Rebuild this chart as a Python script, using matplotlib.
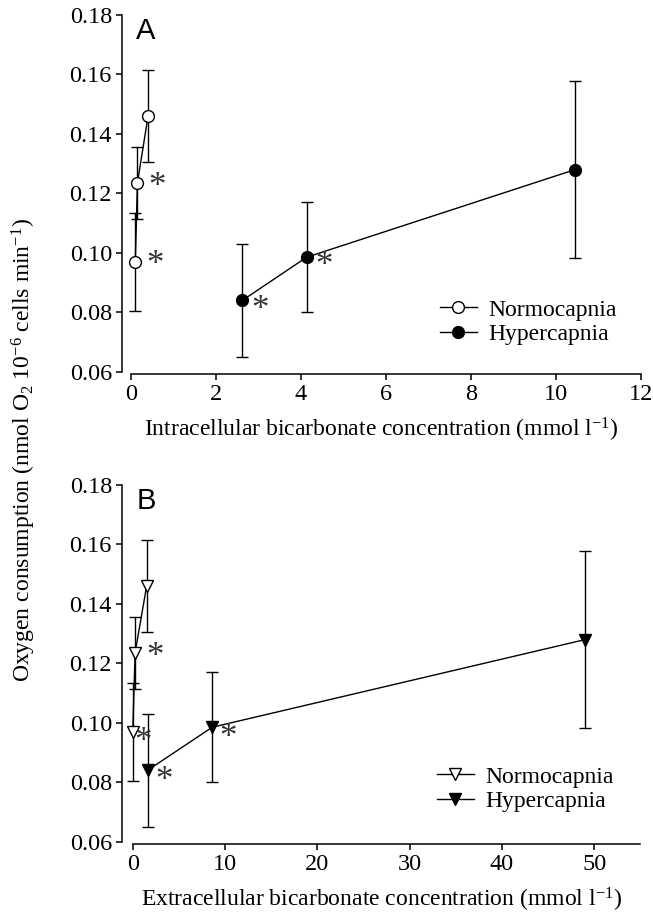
import matplotlib
matplotlib.use("Agg")
import matplotlib.pyplot as plt

# oxygen consumption (same for both panels)
norm_o2 = [0.097, 0.1235, 0.146]
norm_err = [0.0165, 0.012, 0.0155]
hyper_o2 = [0.084, 0.0985, 0.128]
hyper_err = [0.019, 0.0185, 0.0298]

# intracellular bicarbonate (A)
norm_hco3_in = [0.1, 0.15, 0.4]
hyper_hco3_in = [2.62, 4.13, 10.45]
# extracellular bicarbonate (B)
norm_hco3_ex = [0.0, 0.25, 1.5]
hyper_hco3_ex = [1.6, 8.6, 49.0]

# significance asterisks
norm_sig = [True, True, False]
hyper_sig = [True, True, False]

yticks = [0.06, 0.08, 0.10, 0.12, 0.14, 0.16, 0.18]

plt.rcParams["font.family"] = "Liberation Serif"
plt.rcParams["mathtext.fontset"] = "custom"
plt.rcParams["mathtext.rm"] = "Liberation Serif"
plt.rcParams["mathtext.it"] = "Liberation Serif:italic"
plt.rcParams["font.size"] = 17

W, H = 653, 915
fig = plt.figure(figsize=(W / 100, H / 100), dpi=100)


def px_axes(left, right, top, bottom):
    return fig.add_axes([left / W, 1 - bottom / H, (right - left) / W, (bottom - top) / H])


axA = px_axes(121.7, 641, 15, 371.7)
axB = px_axes(121.7, 640.5, 485, 841.7)

for ax, xn, xh, mk, xlim, ticks, bounds, xlabel, letter, offn, offh, leg in [
    (axA, norm_hco3_in, hyper_hco3_in, "o", (-0.22, 12), [0, 2, 4, 6, 8, 10, 12], (0, 12),
     "Intracellular bicarbonate concentration (mmol l$^{-1}$)", "A",
     [(14, -3), (14, -3), (0, 0)], [(12.5, -7), (12.5, -7), (0, 0)], (440, 299)),
    (axB, norm_hco3_ex, hyper_hco3_ex, "v", (-1.2, 55), [0, 10, 20, 30, 40, 50], (0, 55),
     "Extracellular bicarbonate concentration (mmol l$^{-1}$)", "B",
     [(7, -8), (14, -3), (0, 0)], [(11.5, -8), (11.5, -8), (0, 0)], (437, 766)),
]:
    ax.errorbar(xn, norm_o2, yerr=norm_err, fmt="none", ecolor="black", elinewidth=1, capsize=4,
                capthick=1, zorder=2)
    ax.errorbar(xh, hyper_o2, yerr=hyper_err, fmt="none", ecolor="black", elinewidth=1, capsize=4,
                capthick=1, zorder=2)
    ax.plot(xn, norm_o2, "-", marker=mk, color="black", mfc="white", mec="black", ms=8.5, lw=1,
            mew=1, label="Normocapnia", zorder=3)
    ax.plot(xh, hyper_o2, "-", marker=mk, color="black", mfc="black", mec="black", ms=8.5, lw=1,
            label="Hypercapnia", zorder=3)

    for xs, ys, sig, offs in [(xn, norm_o2, norm_sig, offn), (xh, hyper_o2, hyper_sig, offh)]:
        for i in range(len(xs)):
            if sig[i]:
                ax.annotate("*", (xs[i], ys[i]), xytext=offs[i], textcoords="offset points",
                            ha="center", va="center", fontsize=25, color="#333333")

    ax.set_xlim(*xlim)
    ax.set_ylim(0.06, 0.18)
    ax.set_xticks(ticks)
    ax.set_yticks(yticks)
    ax.set_yticklabels(["%.2f" % v for v in yticks])
    for s in ["top", "right"]:
        ax.spines[s].set_visible(False)
    ax.spines["left"].set_linewidth(1.1)
    ax.spines["bottom"].set_linewidth(1.1)
    ax.spines["bottom"].set_bounds(*bounds)
    ax.spines["bottom"].set_position(("outward", 1.5))
    ax.tick_params(direction="out", length=4, width=1.1, labelsize=17.5, pad=3)
    ax.set_xlabel(xlabel, fontsize=17, labelpad=8)
    ax.text(0.028, 0.995, letter, transform=ax.transAxes, ha="left", va="top",
            fontsize=21, family="Liberation Sans")

    ax.legend(loc="upper left", bbox_to_anchor=(leg[0] / W, 1 - leg[1] / H),
              bbox_transform=fig.transFigure, frameon=False, fontsize=17, handlelength=1.55,
              handletextpad=0.5, labelspacing=0.12, borderpad=0, borderaxespad=0)

fig.text(24 / W, 0.508, "Oxygen consumption (nmol O$_2$ 10$^{-6}$ cells min$^{-1}$)",
         rotation=90, ha="center", va="center", fontsize=17)

fig.savefig("out.png", dpi=100)
